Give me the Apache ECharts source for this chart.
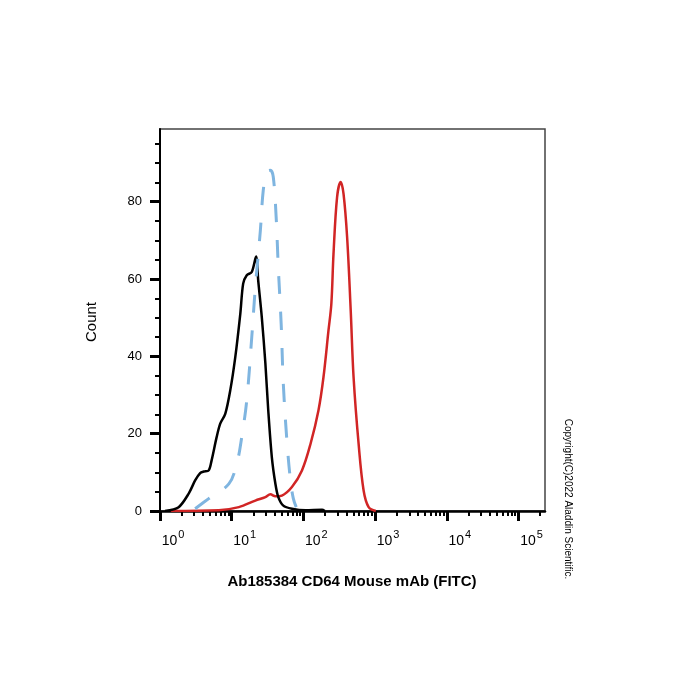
<!DOCTYPE html>
<html>
<head>
<meta charset="utf-8">
<script src="https://cdn.jsdelivr.net/npm/echarts@6/dist/echarts.min.js"></script>
<style>html,body{margin:0;padding:0;background:#fff}#c{width:700px;height:700px}</style>
</head>
<body>
<div id="c"></div>
<script>
// x values are log10(FITC intensity), y values are Count
var blackX = [0.07,0.26,0.40,0.49,0.56,0.61,0.68,0.72,0.79,0.84,0.91,0.98,1.05,1.12,1.16,1.21,1.28,1.34,1.37,1.42,1.47,1.51,1.56,1.61,1.65,1.72,1.84,2.03,2.26,2.30];
var blackY = [0,1,4.5,7.9,9.8,10.2,10.5,13.1,19.1,22.6,25.1,31.2,39.8,51,58.8,61,61.8,65.8,59.6,50.1,38.1,26,13.9,7,3.6,1.4,0.6,0.2,0.3,0];
var blueX = [0.49,0.68,0.96,1.07,1.14,1.21,1.28,1.33,1.40,1.44,1.49,1.54,1.58,1.62,1.65,1.69,1.72,1.77,1.82,1.86,1.90];
var blueY = [0.6,3.2,7,12.2,19.1,28.6,45,57.9,72.6,82.9,87.7,88.1,86.4,76,63,48.4,32.9,18.2,7.9,3.2,1];
var redX = [0.15,0.82,1.10,1.33,1.47,1.54,1.61,1.70,1.84,1.98,2.10,2.21,2.28,2.35,2.39,2.42,2.47,2.52,2.56,2.61,2.66,2.70,2.77,2.84,2.91,3.01];
var redY = [0,0.2,1,2.7,3.6,4.3,3.8,4,6.2,10.5,17.4,26,34.6,46.7,53.6,66.5,81.2,85.1,82,70.8,51.9,34.6,17.4,5.3,1,0];
var xDecades = [0,1,2,3,4,5];
var xMinorMult = [2,3,4,5,6,7,8,9];
var yMajor = [0,20,40,60,80];
var yMinor = [5,10,15,25,30,35,45,50,55,65,70,75,85,90,95];
var xTitle = 'Ab185384 CD64 Mouse mAb (FITC)';
var yTitle = 'Count';
var copyright = 'Copyright(C)2022 Aladdin Scientific.';

var XMIN = 0, XMAX = 5.37, YMIN = 0, YMAX = 98.8;
var xMinor = [];
xDecades.forEach(function(d){ xMinorMult.forEach(function(m){ var v = d + Math.log10(m); if (v <= XMAX) xMinor.push(v); }); });
function zip(a,b){ return a.map(function(v,i){ return [v,b[i]]; }); }

var chart = echarts.init(document.getElementById('c'), null, {renderer:'canvas'});
var font = 'Liberation Sans, Arial, sans-serif';
chart.setOption({
  animation: false,
  backgroundColor: '#fff',
  grid: {left:160, right:155, top:129, bottom:189, show:true, borderColor:'#444', borderWidth:1.5, backgroundColor:'transparent'},
  xAxis: [{
    type:'value', min:XMIN, max:XMAX, position:'bottom',
    axisLine:{show:true, lineStyle:{color:'#000', width:2.5}},
    axisTick:{show:true, inside:false, length:10, lineStyle:{color:'#000', width:3}, customValues:xDecades},
    axisLabel:{show:true, margin:18, customValues:xDecades, padding:[0,0,0,26],
      formatter:function(v){ return '{b|10}{e|' + Math.round(v) + '}'; },
      rich:{ b:{fontFamily:font, fontSize:14, color:'#000'}, e:{fontFamily:font, fontSize:11, color:'#000', padding:[0,0,13,1]} }
    },
    splitLine:{show:false}
  },{
    type:'value', min:XMIN, max:XMAX, position:'bottom',
    axisLine:{show:false},
    axisTick:{show:true, inside:false, length:5, lineStyle:{color:'#000', width:2}, customValues:xMinor},
    axisLabel:{show:false}, splitLine:{show:false}
  }],
  yAxis: [{
    type:'value', min:YMIN, max:YMAX, position:'left',
    axisLine:{show:true, lineStyle:{color:'#000', width:2}},
    axisTick:{show:true, inside:false, length:10, lineStyle:{color:'#000', width:3}, customValues:yMajor},
    axisLabel:{show:true, margin:18, customValues:yMajor, fontFamily:font, fontSize:13, color:'#000'},
    splitLine:{show:false}
  },{
    type:'value', min:YMIN, max:YMAX, position:'left',
    axisLine:{show:false},
    axisTick:{show:true, inside:false, length:5, lineStyle:{color:'#000', width:2}, customValues:yMinor},
    axisLabel:{show:false}, splitLine:{show:false}
  }],
  series: [
    {type:'line', xAxisIndex:0, yAxisIndex:0, data:zip(redX, redY), showSymbol:false, smooth:0.35,
     lineStyle:{color:'#d12525', width:2.5}, z:2},
    {type:'line', xAxisIndex:0, yAxisIndex:0, data:zip(blackX, blackY), showSymbol:false, smooth:0.3,
     lineStyle:{color:'#000', width:2.5}, z:3},
    {type:'line', xAxisIndex:0, yAxisIndex:0, data:zip(blueX, blueY), showSymbol:false, smooth:0.35,
     lineStyle:{color:'#7fb5e0', width:3, type:[18,18], cap:'butt'}, z:4}
  ],
  graphic: [
    {type:'text', x:352, y:582, style:{text:xTitle, font:'bold 15px ' + font, fill:'#000', textAlign:'center', textVerticalAlign:'middle'}},
    {type:'text', x:92, y:322, rotation:Math.PI/2, style:{text:yTitle, font:'15px ' + font, fill:'#000', textAlign:'center', textVerticalAlign:'middle'}},
    {type:'text', x:568, y:499, rotation:-Math.PI/2, style:{text:copyright, font:'10px ' + font, fill:'#000', textAlign:'center', textVerticalAlign:'middle'}}
  ]
});
</script>
</body>
</html>
